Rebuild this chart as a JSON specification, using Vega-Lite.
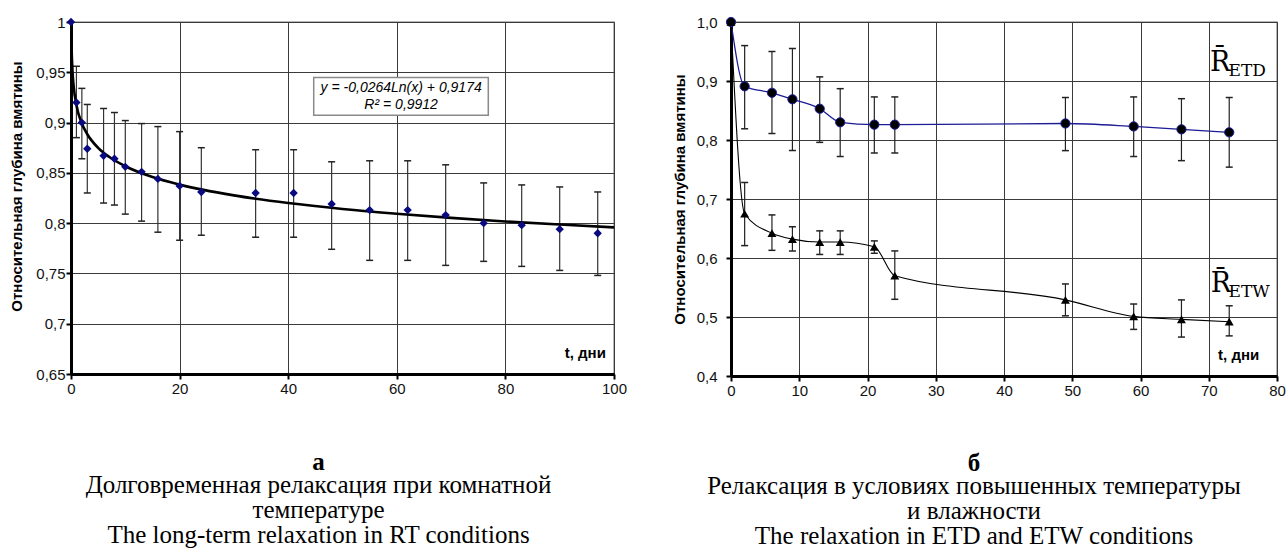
{
  "$schema": "https://vega.github.io/schema/vega-lite/v6.json",
  "padding": {"left": 9, "top": 14, "right": 0, "bottom": 0},
  "spacing": 43,
  "background": "white",
  "datasets": {
    "rt": [
      {"t": 0, "v": 1.0, "lo": null, "hi": null},
      {"t": 1, "v": 0.920, "lo": 0.885, "hi": 0.956},
      {"t": 2, "v": 0.900, "lo": 0.864, "hi": 0.934},
      {"t": 3, "v": 0.874, "lo": 0.830, "hi": 0.918},
      {"t": 6, "v": 0.867, "lo": 0.820, "hi": 0.914},
      {"t": 8, "v": 0.864, "lo": 0.818, "hi": 0.910},
      {"t": 10, "v": 0.856, "lo": 0.809, "hi": 0.902},
      {"t": 13, "v": 0.851, "lo": 0.802, "hi": 0.899},
      {"t": 16, "v": 0.844, "lo": 0.791, "hi": 0.896},
      {"t": 20, "v": 0.837, "lo": 0.783, "hi": 0.891},
      {"t": 24, "v": 0.831, "lo": 0.788, "hi": 0.875},
      {"t": 34, "v": 0.830, "lo": 0.786, "hi": 0.873},
      {"t": 41, "v": 0.830, "lo": 0.786, "hi": 0.873},
      {"t": 48, "v": 0.819, "lo": 0.774, "hi": 0.861},
      {"t": 55, "v": 0.813, "lo": 0.763, "hi": 0.862},
      {"t": 62, "v": 0.813, "lo": 0.763, "hi": 0.862},
      {"t": 69, "v": 0.808, "lo": 0.758, "hi": 0.858},
      {"t": 76, "v": 0.800, "lo": 0.762, "hi": 0.840},
      {"t": 83, "v": 0.798, "lo": 0.757, "hi": 0.838},
      {"t": 90, "v": 0.794, "lo": 0.753, "hi": 0.836},
      {"t": 97, "v": 0.790, "lo": 0.748, "hi": 0.831}
    ],
    "trend": [
      {"t": 0.045, "v": 0.9993},
      {"t": 0.1, "v": 0.9782},
      {"t": 0.25, "v": 0.9540},
      {"t": 0.5, "v": 0.9357},
      {"t": 1, "v": 0.9174},
      {"t": 2, "v": 0.8991},
      {"t": 3, "v": 0.8884},
      {"t": 5, "v": 0.8749},
      {"t": 7, "v": 0.8660},
      {"t": 10, "v": 0.8566},
      {"t": 15, "v": 0.8459},
      {"t": 20, "v": 0.8383},
      {"t": 30, "v": 0.8276},
      {"t": 40, "v": 0.8200},
      {"t": 50, "v": 0.8141},
      {"t": 60, "v": 0.8093},
      {"t": 70, "v": 0.8052},
      {"t": 80, "v": 0.8017},
      {"t": 90, "v": 0.7986},
      {"t": 100, "v": 0.7958}
    ],
    "etd": [
      {"t": 0, "v": 1.0, "lo": null, "hi": null},
      {"t": 2, "v": 0.891, "lo": 0.819, "hi": 0.960},
      {"t": 6, "v": 0.880, "lo": 0.811, "hi": 0.950},
      {"t": 9, "v": 0.869, "lo": 0.782, "hi": 0.955},
      {"t": 13, "v": 0.853, "lo": 0.796, "hi": 0.907},
      {"t": 16, "v": 0.830, "lo": 0.772, "hi": 0.887},
      {"t": 21, "v": 0.826, "lo": 0.778, "hi": 0.873},
      {"t": 24, "v": 0.826, "lo": 0.778, "hi": 0.873},
      {"t": 49, "v": 0.828, "lo": 0.782, "hi": 0.872},
      {"t": 59, "v": 0.823, "lo": 0.772, "hi": 0.873},
      {"t": 66, "v": 0.818, "lo": 0.765, "hi": 0.870},
      {"t": 73, "v": 0.813, "lo": 0.754, "hi": 0.872}
    ],
    "etw": [
      {"t": 0, "v": 1.0, "lo": null, "hi": null},
      {"t": 2, "v": 0.675, "lo": 0.621, "hi": 0.728},
      {"t": 6, "v": 0.642, "lo": 0.613, "hi": 0.673},
      {"t": 9, "v": 0.632, "lo": 0.612, "hi": 0.653},
      {"t": 13, "v": 0.627, "lo": 0.606, "hi": 0.646},
      {"t": 16, "v": 0.627, "lo": 0.606, "hi": 0.646},
      {"t": 21, "v": 0.619, "lo": 0.608, "hi": 0.629},
      {"t": 24, "v": 0.570, "lo": 0.530, "hi": 0.612},
      {"t": 49, "v": 0.529, "lo": 0.502, "hi": 0.556},
      {"t": 59, "v": 0.501, "lo": 0.479, "hi": 0.522},
      {"t": 66, "v": 0.496, "lo": 0.466, "hi": 0.529},
      {"t": 73, "v": 0.492, "lo": 0.468, "hi": 0.519}
    ]
  },
  "hconcat": [
    {
      "width": 543,
      "height": 352,
      "title": {
        "text": "а",
        "subtitle": ["Долговременная релаксация при комнатной", "температуре", "The long-term relaxation in RT conditions"],
        "orient": "bottom",
        "anchor": "middle",
        "dx": -24,
        "offset": 54
      },
      "layer": [
        {
          "data": {"name": "rt"},
          "transform": [{"filter": "isValid(datum.lo)"}],
          "mark": {"type": "rule", "color": "#333333", "strokeWidth": 1.2},
          "encoding": {
            "x": {"field": "t", "type": "quantitative", "scale": {"domain": [0, 100], "nice": false, "zero": false},
                  "axis": {"title": null, "values": [0, 20, 40, 60, 80, 100], "labelPadding": 2}},
            "y": {"field": "lo", "type": "quantitative", "scale": {"domain": [0.65, 1], "nice": false, "zero": false},
                  "axis": {"title": "Относительная глубина вмятины", "values": [0.65, 0.7, 0.75, 0.8, 0.85, 0.9, 0.95, 1],
                           "labelExpr": "replace(format(datum.value, '.2~f'), '.', ',')", "labelPadding": 1, "titlePadding": 11, "titleY": 164}},
            "y2": {"field": "hi"}
          }
        },
        {
          "data": {"name": "rt"},
          "transform": [{"filter": "isValid(datum.lo)"}],
          "mark": {"type": "tick", "orient": "horizontal", "color": "#222222", "size": 7, "thickness": 1.5, "opacity": 1},
          "encoding": {
            "x": {"field": "t", "type": "quantitative", "scale": {"domain": [0, 100], "nice": false, "zero": false},
                  "axis": {"title": null, "values": [0, 20, 40, 60, 80, 100], "labelPadding": 2}},
            "y": {"field": "lo", "type": "quantitative", "scale": {"domain": [0.65, 1], "nice": false, "zero": false},
                  "axis": {"title": "Относительная глубина вмятины", "values": [0.65, 0.7, 0.75, 0.8, 0.85, 0.9, 0.95, 1],
                           "labelExpr": "replace(format(datum.value, '.2~f'), '.', ',')", "labelPadding": 1, "titlePadding": 11, "titleY": 164}}
          }
        },
        {
          "data": {"name": "rt"},
          "transform": [{"filter": "isValid(datum.lo)"}],
          "mark": {"type": "tick", "orient": "horizontal", "color": "#222222", "size": 7, "thickness": 1.5, "opacity": 1},
          "encoding": {
            "x": {"field": "t", "type": "quantitative", "scale": {"domain": [0, 100], "nice": false, "zero": false},
                  "axis": {"title": null, "values": [0, 20, 40, 60, 80, 100], "labelPadding": 2}},
            "y": {"field": "hi", "type": "quantitative", "scale": {"domain": [0.65, 1], "nice": false, "zero": false},
                  "axis": {"title": "Относительная глубина вмятины", "values": [0.65, 0.7, 0.75, 0.8, 0.85, 0.9, 0.95, 1],
                           "labelExpr": "replace(format(datum.value, '.2~f'), '.', ',')", "labelPadding": 1, "titlePadding": 11, "titleY": 164}}
          }
        },
        {
          "data": {"name": "trend"},
          "mark": {"type": "line", "color": "black", "strokeWidth": 2.6, "interpolate": "monotone"},
          "encoding": {
            "x": {"field": "t", "type": "quantitative", "scale": {"domain": [0, 100], "nice": false, "zero": false},
                  "axis": {"title": null, "values": [0, 20, 40, 60, 80, 100], "labelPadding": 2}},
            "y": {"field": "v", "type": "quantitative", "scale": {"domain": [0.65, 1], "nice": false, "zero": false},
                  "axis": {"title": "Относительная глубина вмятины", "values": [0.65, 0.7, 0.75, 0.8, 0.85, 0.9, 0.95, 1],
                           "labelExpr": "replace(format(datum.value, '.2~f'), '.', ',')", "labelPadding": 1, "titlePadding": 11, "titleY": 164}}
          }
        },
        {
          "data": {"name": "rt"},
          "mark": {"type": "point", "shape": "diamond", "filled": true, "color": "#0a0a80", "size": 70, "opacity": 1},
          "encoding": {
            "x": {"field": "t", "type": "quantitative", "scale": {"domain": [0, 100], "nice": false, "zero": false},
                  "axis": {"title": null, "values": [0, 20, 40, 60, 80, 100], "labelPadding": 2}},
            "y": {"field": "v", "type": "quantitative", "scale": {"domain": [0.65, 1], "nice": false, "zero": false},
                  "axis": {"title": "Относительная глубина вмятины", "values": [0.65, 0.7, 0.75, 0.8, 0.85, 0.9, 0.95, 1],
                           "labelExpr": "replace(format(datum.value, '.2~f'), '.', ',')", "labelPadding": 1, "titlePadding": 11, "titleY": 164}}
          }
        },
        {
          "data": {"values": [{}]},
          "mark": {"type": "rect", "fill": "white", "stroke": "#8a8a8a", "strokeWidth": 1.5},
          "encoding": {
            "x": {"datum": 44.7, "type": "quantitative"},
            "x2": {"datum": 76.85},
            "y": {"datum": 0.9447, "type": "quantitative"},
            "y2": {"datum": 0.9072}
          }
        },
        {
          "data": {"values": [{}]},
          "mark": {"type": "text", "font": "Liberation Sans", "fontSize": 14, "fontStyle": "italic", "color": "black", "align": "center", "baseline": "middle"},
          "encoding": {
            "x": {"datum": 60.8, "type": "quantitative"},
            "y": {"datum": 0.934, "type": "quantitative"},
            "text": {"value": "y = -0,0264Ln(x) + 0,9174"}
          }
        },
        {
          "data": {"values": [{}]},
          "mark": {"type": "text", "font": "Liberation Sans", "fontSize": 14, "fontStyle": "italic", "color": "black", "align": "center", "baseline": "middle"},
          "encoding": {
            "x": {"datum": 60.8, "type": "quantitative"},
            "y": {"datum": 0.917, "type": "quantitative"},
            "text": {"value": "R² = 0,9912"}
          }
        },
        {
          "data": {"values": [{}]},
          "mark": {"type": "text", "font": "Liberation Sans", "fontSize": 15, "fontWeight": "bold", "color": "black", "align": "right", "baseline": "alphabetic"},
          "encoding": {
            "x": {"datum": 98.5, "type": "quantitative"},
            "y": {"datum": 0.6664, "type": "quantitative"},
            "text": {"value": "t, дни"}
          }
        }
      ]
    },
    {
      "width": 546,
      "height": 354,
      "title": {
        "text": "б",
        "subtitle": ["Релаксация в условиях повышенных температуры", "и влажности", "The relaxation in ETD and ETW conditions"],
        "orient": "bottom",
        "anchor": "middle",
        "dx": -30,
        "offset": 53
      },
      "layer": [
        {
          "data": {"name": "etd"},
          "transform": [{"filter": "isValid(datum.lo)"}],
          "mark": {"type": "rule", "color": "#222222", "strokeWidth": 1.2},
          "encoding": {
            "x": {"field": "t", "type": "quantitative", "scale": {"domain": [0, 80], "nice": false, "zero": false},
                  "axis": {"title": null, "values": [0, 10, 20, 30, 40, 50, 60, 70, 80], "labelPadding": 2}},
            "y": {"field": "lo", "type": "quantitative", "scale": {"domain": [0.4, 1], "nice": false, "zero": false},
                  "axis": {"title": "Относительная глубина вмятины", "values": [0.4, 0.5, 0.6, 0.7, 0.8, 0.9, 1],
                           "labelExpr": "replace(format(datum.value, '.1f'), '.', ',')", "labelPadding": 9, "titlePadding": 9}},
            "y2": {"field": "hi"}
          }
        },
        {
          "data": {"name": "etd"},
          "transform": [{"filter": "isValid(datum.lo)"}],
          "mark": {"type": "tick", "orient": "horizontal", "color": "#222222", "size": 7, "thickness": 1.5, "opacity": 1},
          "encoding": {
            "x": {"field": "t", "type": "quantitative", "scale": {"domain": [0, 80], "nice": false, "zero": false},
                  "axis": {"title": null, "values": [0, 10, 20, 30, 40, 50, 60, 70, 80], "labelPadding": 2}},
            "y": {"field": "lo", "type": "quantitative", "scale": {"domain": [0.4, 1], "nice": false, "zero": false},
                  "axis": {"title": "Относительная глубина вмятины", "values": [0.4, 0.5, 0.6, 0.7, 0.8, 0.9, 1],
                           "labelExpr": "replace(format(datum.value, '.1f'), '.', ',')", "labelPadding": 9, "titlePadding": 9}}
          }
        },
        {
          "data": {"name": "etd"},
          "transform": [{"filter": "isValid(datum.lo)"}],
          "mark": {"type": "tick", "orient": "horizontal", "color": "#222222", "size": 7, "thickness": 1.5, "opacity": 1},
          "encoding": {
            "x": {"field": "t", "type": "quantitative", "scale": {"domain": [0, 80], "nice": false, "zero": false},
                  "axis": {"title": null, "values": [0, 10, 20, 30, 40, 50, 60, 70, 80], "labelPadding": 2}},
            "y": {"field": "hi", "type": "quantitative", "scale": {"domain": [0.4, 1], "nice": false, "zero": false},
                  "axis": {"title": "Относительная глубина вмятины", "values": [0.4, 0.5, 0.6, 0.7, 0.8, 0.9, 1],
                           "labelExpr": "replace(format(datum.value, '.1f'), '.', ',')", "labelPadding": 9, "titlePadding": 9}}
          }
        },
        {
          "data": {"name": "etw"},
          "transform": [{"filter": "isValid(datum.lo)"}],
          "mark": {"type": "rule", "color": "#222222", "strokeWidth": 1.2},
          "encoding": {
            "x": {"field": "t", "type": "quantitative", "scale": {"domain": [0, 80], "nice": false, "zero": false},
                  "axis": {"title": null, "values": [0, 10, 20, 30, 40, 50, 60, 70, 80], "labelPadding": 2}},
            "y": {"field": "lo", "type": "quantitative", "scale": {"domain": [0.4, 1], "nice": false, "zero": false},
                  "axis": {"title": "Относительная глубина вмятины", "values": [0.4, 0.5, 0.6, 0.7, 0.8, 0.9, 1],
                           "labelExpr": "replace(format(datum.value, '.1f'), '.', ',')", "labelPadding": 9, "titlePadding": 9}},
            "y2": {"field": "hi"}
          }
        },
        {
          "data": {"name": "etw"},
          "transform": [{"filter": "isValid(datum.lo)"}],
          "mark": {"type": "tick", "orient": "horizontal", "color": "#222222", "size": 7, "thickness": 1.5, "opacity": 1},
          "encoding": {
            "x": {"field": "t", "type": "quantitative", "scale": {"domain": [0, 80], "nice": false, "zero": false},
                  "axis": {"title": null, "values": [0, 10, 20, 30, 40, 50, 60, 70, 80], "labelPadding": 2}},
            "y": {"field": "lo", "type": "quantitative", "scale": {"domain": [0.4, 1], "nice": false, "zero": false},
                  "axis": {"title": "Относительная глубина вмятины", "values": [0.4, 0.5, 0.6, 0.7, 0.8, 0.9, 1],
                           "labelExpr": "replace(format(datum.value, '.1f'), '.', ',')", "labelPadding": 9, "titlePadding": 9}}
          }
        },
        {
          "data": {"name": "etw"},
          "transform": [{"filter": "isValid(datum.lo)"}],
          "mark": {"type": "tick", "orient": "horizontal", "color": "#222222", "size": 7, "thickness": 1.5, "opacity": 1},
          "encoding": {
            "x": {"field": "t", "type": "quantitative", "scale": {"domain": [0, 80], "nice": false, "zero": false},
                  "axis": {"title": null, "values": [0, 10, 20, 30, 40, 50, 60, 70, 80], "labelPadding": 2}},
            "y": {"field": "hi", "type": "quantitative", "scale": {"domain": [0.4, 1], "nice": false, "zero": false},
                  "axis": {"title": "Относительная глубина вмятины", "values": [0.4, 0.5, 0.6, 0.7, 0.8, 0.9, 1],
                           "labelExpr": "replace(format(datum.value, '.1f'), '.', ',')", "labelPadding": 9, "titlePadding": 9}}
          }
        },
        {
          "data": {"name": "etd"},
          "mark": {"type": "line", "color": "#1c1c96", "strokeWidth": 1.3, "interpolate": "monotone"},
          "encoding": {
            "x": {"field": "t", "type": "quantitative", "scale": {"domain": [0, 80], "nice": false, "zero": false},
                  "axis": {"title": null, "values": [0, 10, 20, 30, 40, 50, 60, 70, 80], "labelPadding": 2}},
            "y": {"field": "v", "type": "quantitative", "scale": {"domain": [0.4, 1], "nice": false, "zero": false},
                  "axis": {"title": "Относительная глубина вмятины", "values": [0.4, 0.5, 0.6, 0.7, 0.8, 0.9, 1],
                           "labelExpr": "replace(format(datum.value, '.1f'), '.', ',')", "labelPadding": 9, "titlePadding": 9}}
          }
        },
        {
          "data": {"name": "etw"},
          "mark": {"type": "line", "color": "black", "strokeWidth": 1.1, "interpolate": "monotone"},
          "encoding": {
            "x": {"field": "t", "type": "quantitative", "scale": {"domain": [0, 80], "nice": false, "zero": false},
                  "axis": {"title": null, "values": [0, 10, 20, 30, 40, 50, 60, 70, 80], "labelPadding": 2}},
            "y": {"field": "v", "type": "quantitative", "scale": {"domain": [0.4, 1], "nice": false, "zero": false},
                  "axis": {"title": "Относительная глубина вмятины", "values": [0.4, 0.5, 0.6, 0.7, 0.8, 0.9, 1],
                           "labelExpr": "replace(format(datum.value, '.1f'), '.', ',')", "labelPadding": 9, "titlePadding": 9}}
          }
        },
        {
          "data": {"name": "etd"},
          "mark": {"type": "point", "shape": "circle", "filled": true, "fill": "black", "stroke": "#1c1c96", "strokeWidth": 1, "size": 85, "opacity": 1},
          "encoding": {
            "x": {"field": "t", "type": "quantitative", "scale": {"domain": [0, 80], "nice": false, "zero": false},
                  "axis": {"title": null, "values": [0, 10, 20, 30, 40, 50, 60, 70, 80], "labelPadding": 2}},
            "y": {"field": "v", "type": "quantitative", "scale": {"domain": [0.4, 1], "nice": false, "zero": false},
                  "axis": {"title": "Относительная глубина вмятины", "values": [0.4, 0.5, 0.6, 0.7, 0.8, 0.9, 1],
                           "labelExpr": "replace(format(datum.value, '.1f'), '.', ',')", "labelPadding": 9, "titlePadding": 9}}
          }
        },
        {
          "data": {"name": "etw"},
          "mark": {"type": "point", "shape": "triangle-up", "filled": true, "color": "black", "size": 80, "opacity": 1},
          "encoding": {
            "x": {"field": "t", "type": "quantitative", "scale": {"domain": [0, 80], "nice": false, "zero": false},
                  "axis": {"title": null, "values": [0, 10, 20, 30, 40, 50, 60, 70, 80], "labelPadding": 2}},
            "y": {"field": "v", "type": "quantitative", "scale": {"domain": [0.4, 1], "nice": false, "zero": false},
                  "axis": {"title": "Относительная глубина вмятины", "values": [0.4, 0.5, 0.6, 0.7, 0.8, 0.9, 1],
                           "labelExpr": "replace(format(datum.value, '.1f'), '.', ',')", "labelPadding": 9, "titlePadding": 9}}
          }
        },
        {
          "data": {"values": [{}]},
          "mark": {"type": "text", "font": "DejaVu Serif", "fontSize": 27, "color": "black", "align": "left", "baseline": "alphabetic"},
          "encoding": {
            "x": {"datum": 70.2, "type": "quantitative"},
            "y": {"datum": 0.917, "type": "quantitative"},
            "text": {"value": "R̄"}
          }
        },
        {
          "data": {"values": [{}]},
          "mark": {"type": "text", "font": "DejaVu Serif", "fontSize": 17, "color": "black", "align": "left", "baseline": "alphabetic"},
          "encoding": {
            "x": {"datum": 72.9, "type": "quantitative"},
            "y": {"datum": 0.909, "type": "quantitative"},
            "text": {"value": "ETD"}
          }
        },
        {
          "data": {"values": [{}]},
          "mark": {"type": "text", "font": "DejaVu Serif", "fontSize": 27, "color": "black", "align": "left", "baseline": "alphabetic"},
          "encoding": {
            "x": {"datum": 70.3, "type": "quantitative"},
            "y": {"datum": 0.5416, "type": "quantitative"},
            "text": {"value": "R̄"}
          }
        },
        {
          "data": {"values": [{}]},
          "mark": {"type": "text", "font": "DejaVu Serif", "fontSize": 17, "color": "black", "align": "left", "baseline": "alphabetic"},
          "encoding": {
            "x": {"datum": 72.9, "type": "quantitative"},
            "y": {"datum": 0.5345, "type": "quantitative"},
            "text": {"value": "ETW"}
          }
        },
        {
          "data": {"values": [{}]},
          "mark": {"type": "text", "font": "Liberation Sans", "fontSize": 15, "fontWeight": "bold", "color": "black", "align": "right", "baseline": "alphabetic"},
          "encoding": {
            "x": {"datum": 77.4, "type": "quantitative"},
            "y": {"datum": 0.4267, "type": "quantitative"},
            "text": {"value": "t, дни"}
          }
        }
      ]
    }
  ],
  "config": {
    "font": "Liberation Sans",
    "view": {"stroke": "#a0a0a0", "strokeWidth": 1.5},
    "axis": {
      "domainColor": "black",
      "domainWidth": 3,
      "tickColor": "black",
      "tickWidth": 2,
      "tickSize": 5,
      "gridColor": "#3a3a3a",
      "gridWidth": 1,
      "gridOpacity": 1,
      "labelFont": "Liberation Sans",
      "labelFontSize": 15,
      "labelColor": "#111111",
      "labelFlush": false,
      "labelOverlap": false,
      "titleFont": "Liberation Sans",
      "titleFontSize": 15,
      "titleFontWeight": "bold",
      "titleColor": "black"
    },
    "title": {
      "font": "Liberation Serif",
      "fontSize": 25,
      "fontWeight": "bold",
      "color": "black",
      "subtitleFont": "Liberation Serif",
      "subtitleFontSize": 25,
      "subtitleLineHeight": 25,
      "subtitleColor": "black",
      "subtitlePadding": -2
    }
  }
}
